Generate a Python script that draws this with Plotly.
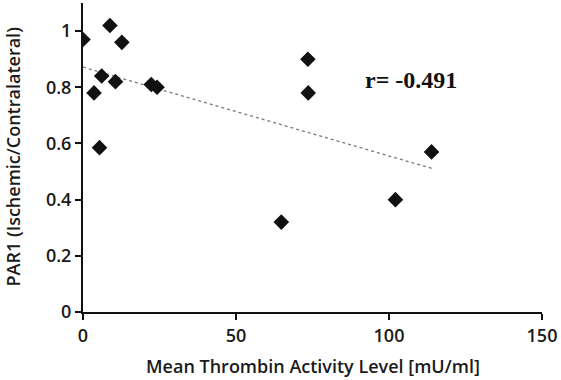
import numpy as np
import plotly.graph_objects as go

thrombin = [0.0, 3.6, 6.1, 5.4, 8.8, 10.6, 12.7, 22.3, 24.2, 64.8, 73.5, 73.6, 102.1, 113.9]
par1 = [0.97, 0.78, 0.84, 0.585, 1.02, 0.82, 0.96, 0.81, 0.80, 0.32, 0.90, 0.78, 0.40, 0.57]
r_label = "r= -0.491"
x_title = "Mean Thrombin Activity Level [mU/ml]"
y_title = "PAR1 (Ischemic/Contralateral)"

x = np.array(thrombin)
y = np.array(par1)
slope, intercept = np.polyfit(x, y, 1)
xt = np.array([x.min(), x.max()])
yt = slope * xt + intercept

fig = go.Figure()
fig.add_trace(go.Scatter(x=xt, y=yt, mode="lines",
                         line=dict(color="#7a7a7a", width=1.3, dash="dot"),
                         hoverinfo="skip", showlegend=False))
fig.add_trace(go.Scatter(x=thrombin, y=par1, mode="markers",
                         marker=dict(symbol="diamond", size=12, color="#111111"),
                         showlegend=False))

fig.add_annotation(x=107.3, y=0.826, xref="x", yref="y", text="<b>%s</b>" % r_label,
                   showarrow=False,
                   font=dict(family="Liberation Serif", size=24, color="#111111"))

axis_font = dict(family="Open Sans", size=18, color="#1a1a1a", weight=600)

fig.add_annotation(x=0.5, y=-54 / 309, xref="paper", yref="paper", text=x_title,
                   showarrow=False, yanchor="middle", xanchor="center", font=axis_font)
fig.add_annotation(x=-71 / 459, y=0.5, xref="paper", yref="paper", text=y_title,
                   showarrow=False, textangle=-90, xanchor="center", yanchor="middle",
                   font=axis_font)

fig.update_layout(
    width=561, height=380,
    margin=dict(l=83, r=19, t=3, b=68),
    paper_bgcolor="white", plot_bgcolor="white",
    xaxis=dict(range=[0, 150], dtick=50, tick0=0, showgrid=False, zeroline=False,
               automargin=False,
               showline=True, linecolor="#111111", linewidth=2,
               ticks="outside", ticklen=6, tickwidth=2, tickcolor="#111111",
               tickfont=axis_font),
    yaxis=dict(range=[0, 1.1], tickvals=[0, 0.2, 0.4, 0.6, 0.8, 1.0],
               ticktext=["0", "0.2", "0.4", "0.6", "0.8", "1"],
               automargin=False,
               showgrid=False, zeroline=False,
               showline=True, linecolor="#111111", linewidth=2,
               ticks="outside", ticklen=6, tickwidth=2, tickcolor="#111111",
               tickfont=axis_font),
)

fig.write_html("out.html", config={"displayModeBar": False},
               post_script="document.body.style.margin='0';")
